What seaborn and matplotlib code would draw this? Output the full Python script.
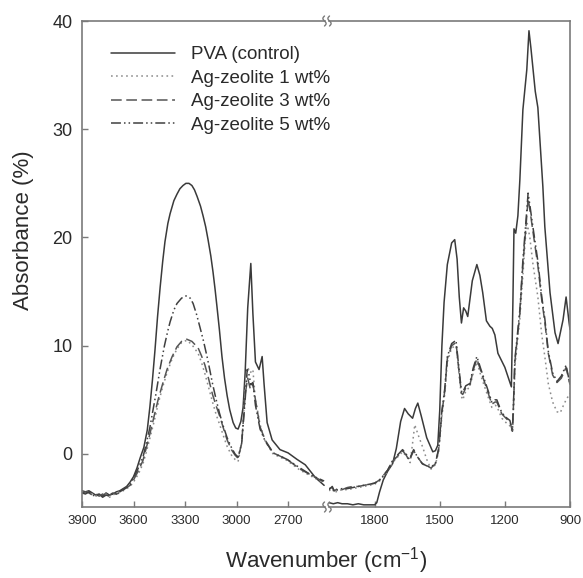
import numpy as np
import pandas as pd
import matplotlib
matplotlib.use("Agg")
import matplotlib.pyplot as plt
from matplotlib.lines import Line2D
import seaborn as sns

SAMPLES = ["PVA (control)", "Ag-zeolite 1 wt%", "Ag-zeolite 3 wt%", "Ag-zeolite 5 wt%"]

# ---- high wavenumber segment (3900-2485 cm-1) ----
PVA_HI_WN = [3900, 3880, 3860, 3840, 3820, 3800, 3780, 3760, 3740, 3720, 3700, 3680, 3660,
             3640, 3620, 3600, 3580, 3560, 3540, 3520, 3505, 3490, 3475, 3460, 3445, 3430,
             3417, 3400, 3387, 3365, 3347, 3330, 3312, 3295, 3277, 3260, 3245, 3230, 3210,
             3195, 3180, 3166, 3150, 3137, 3125, 3114, 3100, 3085, 3070, 3055, 3040, 3020,
             3005, 2991, 2975, 2962, 2950, 2935, 2917, 2905, 2890, 2869, 2851, 2840, 2822,
             2793, 2747, 2700, 2648, 2600, 2540, 2490]
PVA_HI_AB = [-3.4, -3.5, -3.4, -3.6, -3.8, -3.7, -3.9, -3.6, -3.8, -3.7, -3.5, -3.4, -3.2,
             -3.0, -2.6, -2.1, -1.3, -0.3, 0.6, 2.2, 4.3, 6.8, 9.6, 12.7, 15.4, 17.8,
             19.6, 21.3, 22.2, 23.4, 24.0, 24.5, 24.8, 25.0, 25.0, 24.8, 24.4, 23.8, 22.9,
             22.0, 21.0, 19.8, 18.3, 16.8, 15.2, 13.6, 11.5, 9.0, 7.0, 5.4, 4.1, 2.9,
             2.4, 2.3, 3.0, 4.3, 7.5, 13.5, 17.6, 13.0, 8.5, 7.8, 9.0, 6.5, 2.9,
             1.3, 0.4, 0.1, -0.5, -1.0, -2.2, -2.9]

AG1_HI_WN = [3900, 3880, 3860, 3840, 3820, 3800, 3780, 3760, 3740, 3720, 3700, 3680, 3660,
             3640, 3620, 3600, 3570, 3545, 3525, 3504, 3480, 3457, 3430, 3405, 3375, 3347,
             3320, 3290, 3260, 3224, 3205, 3184, 3162, 3140, 3118, 3096, 3075, 3055, 3030,
             3009, 2991, 2970, 2950, 2935, 2920, 2905, 2890, 2863, 2834, 2787, 2706, 2630,
             2560, 2490]
AG1_HI_AB = [-3.5, -3.6, -3.5, -3.7, -3.9, -3.8, -3.8, -3.7, -4.0, -3.8, -3.6, -3.5, -3.4,
             -3.2, -3.0, -2.6, -1.8, -0.9, 0.2, 1.5, 3.0, 4.6, 6.2, 7.5, 8.8, 9.7,
             10.3, 10.5, 10.1, 9.3, 8.5, 7.4, 6.1, 4.8, 3.6, 2.6, 1.6, 0.7, -0.1,
             -0.5, -0.7, 1.0, 6.0, 8.0, 7.5, 7.8, 5.0, 2.7, 1.2, 0.0, -0.6, -1.5,
             -2.1, -2.7]

AG3_HI_WN = [3900, 3880, 3860, 3840, 3820, 3800, 3780, 3760, 3740, 3720, 3700, 3680, 3660,
             3640, 3620, 3600, 3570, 3545, 3525, 3504, 3480, 3457, 3430, 3405, 3375, 3347,
             3320, 3290, 3260, 3224, 3205, 3184, 3162, 3140, 3118, 3096, 3075, 3055, 3030,
             3009, 2991, 2970, 2950, 2935, 2920, 2905, 2890, 2863, 2834, 2787, 2706, 2630,
             2560, 2490]
AG3_HI_AB = [-3.6, -3.5, -3.6, -3.8, -3.7, -3.9, -3.7, -3.9, -3.8, -3.6, -3.7, -3.6, -3.3,
             -3.1, -2.9, -2.4, -1.5, -0.6, 0.6, 1.9, 3.5, 5.0, 6.5, 7.8, 9.0, 9.9,
             10.4, 10.6, 10.4, 9.8, 9.1, 8.2, 6.9, 5.5, 4.4, 3.4, 2.3, 1.3, 0.4,
             -0.1, -0.4, 1.0, 5.5, 7.0, 6.0, 6.5, 5.0, 2.5, 1.3, 0.1, -0.5, -1.4,
             -2.0, -2.6]

AG5_HI_WN = [3900, 3880, 3860, 3840, 3820, 3800, 3780, 3760, 3740, 3720, 3700, 3680, 3660,
             3640, 3620, 3600, 3575, 3545, 3525, 3504, 3485, 3470, 3446, 3420, 3400, 3387,
             3365, 3347, 3320, 3294, 3270, 3253, 3233, 3213, 3192, 3172, 3155, 3140, 3120,
             3100, 3078, 3055, 3030, 3009, 2991, 2970, 2950, 2938, 2925, 2918, 2905, 2890,
             2863, 2834, 2787, 2706, 2630, 2560, 2490]
AG5_HI_AB = [-3.6, -3.7, -3.5, -3.8, -3.9, -3.7, -4.0, -3.8, -3.9, -3.6, -3.7, -3.5, -3.3,
             -3.1, -2.8, -2.2, -1.4, -0.3, 1.0, 2.5, 4.2, 5.5, 7.8, 10.0, 11.4, 12.2,
             13.3, 13.9, 14.4, 14.6, 14.4, 13.9, 12.9, 11.7, 10.4, 9.0, 7.7, 6.5, 5.1,
             3.8, 2.6, 1.5, 0.6, 0.0, -0.3, 1.0, 5.0, 7.8, 7.2, 6.4, 6.6, 4.5,
             2.3, 1.2, 0.1, -0.5, -1.3, -2.0, -2.5]

# ---- low wavenumber segment (2010-900 cm-1) ----
PVA_LO_WN = [2010, 1990, 1970, 1950, 1925, 1900, 1875, 1850, 1825, 1800, 1790, 1777, 1760,
             1740, 1717, 1700, 1680, 1662, 1645, 1625, 1612, 1601, 1585, 1560, 1532, 1520,
             1509, 1500, 1490, 1480, 1465, 1445, 1431, 1420, 1410, 1400, 1390, 1380, 1371,
             1350, 1329, 1315, 1302, 1285, 1269, 1258, 1246, 1232, 1200, 1180, 1170, 1163,
             1158, 1150, 1140, 1131, 1117, 1099, 1089, 1080, 1071, 1060, 1048, 1025, 1016,
             992, 969, 955, 932, 918, 904, 900]
PVA_LO_AB = [-4.5, -4.6, -4.5, -4.6, -4.6, -4.7, -4.6, -4.7, -4.7, -4.7, -4.5, -3.5, -2.4,
             -1.6, -0.9, 0.5, 3.0, 4.2, 3.7, 3.3, 4.2, 4.7, 3.5, 1.5, 0.2, 0.3,
             0.8, 4.0, 10.0, 14.0, 17.5, 19.5, 19.8, 18.0, 14.5, 12.1, 13.5, 13.2, 12.7,
             16.0, 17.5, 16.5, 14.9, 12.3, 11.8, 11.6, 11.0, 9.3, 8.0, 6.8, 6.2, 14.0,
             20.8, 20.4, 22.0, 25.3, 31.8, 35.5, 39.1, 37.5, 35.7, 33.5, 32.0, 24.7, 21.0,
             14.9, 11.2, 10.2, 12.4, 14.5, 12.1, 11.5]

AG1_LO_WN = [2010, 1995, 1985, 1970, 1950, 1925, 1900, 1875, 1850, 1825, 1800, 1777, 1760,
             1740, 1717, 1690, 1671, 1650, 1636, 1625, 1615, 1600, 1578, 1560, 1540, 1520,
             1505, 1490, 1477, 1465, 1445, 1425, 1412, 1400, 1394, 1380, 1362, 1345, 1329,
             1310, 1283, 1260, 1245, 1237, 1214, 1190, 1177, 1165, 1158, 1154, 1131, 1117,
             1105, 1097, 1085, 1071, 1048, 1030, 1016, 1000, 980, 960, 945, 930, 918, 900]
AG1_LO_AB = [-3.4, -3.2, -3.6, -3.4, -3.3, -3.3, -3.2, -3.1, -3.0, -2.9, -2.8, -2.5, -2.1,
             -1.6, -0.8, -0.2, 0.2, -0.3, -0.8, 1.0, 2.7, 1.8, 0.6, -0.5, -1.4, -1.0,
             0.2, 3.5, 5.5, 8.5, 9.8, 10.0, 7.5, 5.3, 5.0, 5.8, 6.2, 7.5, 8.5,
             7.2, 5.6, 4.3, 4.5, 4.4, 3.3, 2.8, 2.6, 2.0, 5.0, 8.0, 12.5, 16.5,
             20.0, 21.3, 20.0, 17.6, 14.5, 11.0, 9.0, 6.5, 4.8, 3.9, 3.8, 4.5, 5.0, 5.6]

AG3_LO_WN = [2010, 1995, 1985, 1970, 1950, 1925, 1900, 1875, 1850, 1825, 1800, 1777, 1760,
             1740, 1717, 1690, 1671, 1655, 1640, 1620, 1605, 1580, 1560, 1540, 1520, 1505,
             1490, 1477, 1465, 1445, 1425, 1412, 1400, 1394, 1380, 1362, 1345, 1329, 1310,
             1283, 1260, 1245, 1237, 1214, 1190, 1177, 1165, 1158, 1154, 1140, 1131, 1117,
             1099, 1093, 1085, 1071, 1048, 1030, 1016, 1000, 980, 960, 940, 918, 908, 900]
AG3_LO_AB = [-3.2, -3.1, -3.4, -3.2, -3.3, -3.1, -3.0, -3.0, -2.9, -2.8, -2.7, -2.4, -2.0,
             -1.5, -0.7, -0.1, 0.3, -0.1, -0.6, 0.3, -0.2, -0.9, -1.1, -1.3, -0.9, 0.4,
             3.8, 5.8, 8.8, 10.0, 10.3, 7.8, 5.6, 5.5, 6.1, 6.3, 7.8, 8.8, 7.6,
             6.0, 4.6, 4.8, 4.8, 3.7, 3.2, 3.0, 2.1, 5.8, 8.5, 11.2, 13.0, 17.5,
             22.0, 23.6, 22.6, 20.6, 17.4, 14.2, 12.2, 9.3, 7.3, 6.6, 7.0, 8.0, 7.1, 6.4]

AG5_LO_WN = [2010, 1995, 1985, 1970, 1950, 1925, 1900, 1875, 1850, 1825, 1800, 1777, 1760,
             1740, 1717, 1690, 1671, 1655, 1640, 1620, 1605, 1580, 1560, 1540, 1520, 1505,
             1490, 1477, 1465, 1445, 1425, 1412, 1400, 1394, 1380, 1362, 1345, 1329, 1310,
             1283, 1260, 1245, 1237, 1214, 1190, 1177, 1165, 1158, 1154, 1140, 1131, 1117,
             1099, 1093, 1085, 1071, 1048, 1030, 1016, 1000, 980, 960, 940, 918, 908, 900]
AG5_LO_AB = [-3.3, -3.0, -3.5, -3.3, -3.2, -3.2, -3.1, -3.0, -2.9, -2.8, -2.7, -2.4, -2.0,
             -1.5, -0.6, 0.0, 0.4, 0.0, -0.5, 0.4, -0.2, -0.9, -1.1, -1.2, -0.9, 0.5,
             4.0, 6.0, 9.0, 10.2, 10.5, 8.0, 5.8, 5.7, 6.3, 6.5, 8.0, 9.0, 7.8,
             6.2, 4.8, 5.0, 5.0, 3.8, 3.3, 3.1, 2.2, 6.0, 8.7, 11.5, 13.3, 17.9,
             22.5, 24.1, 23.0, 21.0, 17.8, 14.5, 12.5, 9.5, 7.5, 6.7, 7.2, 8.2, 7.2, 6.5]

HI_TICKS = [3900, 3600, 3300, 3000, 2700]
LO_TICKS = [1800, 1500, 1200, 900]
Y_TICKS = [0, 10, 20, 30, 40]


def frame(pairs):
    rows = []
    for name, wn, ab in pairs:
        rows.append(pd.DataFrame({"wn": wn, "ab": ab, "sample": name}))
    return pd.concat(rows, ignore_index=True)


df_hi = frame(zip(SAMPLES, [PVA_HI_WN, AG1_HI_WN, AG3_HI_WN, AG5_HI_WN],
                  [PVA_HI_AB, AG1_HI_AB, AG3_HI_AB, AG5_HI_AB]))
df_lo = frame(zip(SAMPLES, [PVA_LO_WN, AG1_LO_WN, AG3_LO_WN, AG5_LO_WN],
                  [PVA_LO_AB, AG1_LO_AB, AG3_LO_AB, AG5_LO_AB]))

sns.set_style("ticks", {"xtick.direction": "in", "ytick.direction": "in"})
plt.rcParams["font.family"] = ["Liberation Sans", "DejaVu Sans"]
plt.rcParams["mathtext.fontset"] = "custom"
plt.rcParams["mathtext.rm"] = "Liberation Sans"
plt.rcParams["mathtext.it"] = "Liberation Sans"

spine_c = "#7a7a7a"
text_c = "#2a2a2a"
palette = {SAMPLES[0]: "#3a3a3a", SAMPLES[1]: "#8c8c8c",
           SAMPLES[2]: "#555555", SAMPLES[3]: "#404040"}
dashes = {SAMPLES[0]: "", SAMPLES[1]: (1.1, 2.2),
          SAMPLES[2]: (7, 3), SAMPLES[3]: (6.5, 2, 1, 2, 1, 2)}

W, H = 583, 578
fig = plt.figure(figsize=(W / 100, H / 100), dpi=100)
ax1 = fig.add_axes([82 / W, 1 - 507 / H, (325 - 82) / W, 486 / H])
ax2 = fig.add_axes([329 / W, 1 - 507 / H, (570 - 329) / W, 486 / H], sharey=ax1)
ax2.patch.set_visible(False)  # keep the legend text readable where it runs past ax1

for ax, d in ((ax1, df_hi), (ax2, df_lo)):
    sns.lineplot(data=d, x="wn", y="ab", hue="sample", style="sample",
                 hue_order=SAMPLES, style_order=SAMPLES, palette=palette,
                 dashes=dashes, estimator=None, sort=False, lw=1.1,
                 legend=(ax is ax1), ax=ax)
    ax.set_xlabel("")
    ax.set_ylabel("")
    for s in ax.spines.values():
        s.set_color(spine_c)
        s.set_linewidth(1.2)
    ax.tick_params(colors=spine_c, labelcolor=text_c, length=4, width=1)

ax1.set_xlim(3900, 2485)
ax2.set_xlim(2010, 900)
ax1.set_ylim(-4.9, 40)
ax1.set_xticks(HI_TICKS)
ax2.set_xticks(LO_TICKS)
ax1.set_yticks(Y_TICKS)
ax1.spines["right"].set_visible(False)
ax2.spines["left"].set_visible(False)
ax2.tick_params(axis="y", left=False, labelleft=False)
ax1.tick_params(axis="x", labelsize=9.5, pad=6)
ax2.tick_params(axis="x", labelsize=9.5, pad=6)
ax1.tick_params(axis="y", labelsize=13, pad=7)

handles, labels = ax1.get_legend_handles_labels()
keep = [(h, l) for h, l in zip(handles, labels) if l in SAMPLES]
leg = ax1.legend([h for h, _ in keep], [l for _, l in keep], loc="upper left",
                 bbox_to_anchor=(0.12, 0.948), frameon=False, fontsize=13.5,
                 handlelength=3.4, handletextpad=0.85, labelspacing=0.34,
                 borderpad=0, borderaxespad=0)
for t in leg.get_texts():
    t.set_color(text_c)

fig.text(326 / W, 1 - 561 / H, "Wavenumber (cm$^{-1}$)", ha="center", va="center",
         fontsize=16, color=text_c)
fig.text(24 / W, 1 - 230 / H, "Absorbance (%)", ha="center", va="center",
         rotation=90, fontsize=16, color=text_c)

# axis break marks
t = np.linspace(-1, 1, 25)
for cx in (324.5, 329.5):
    for cy in (21, 507):
        fig.add_artist(Line2D((cx + 1.6 * np.sin(np.pi * t)) / W, 1 - (cy + 5 * t) / H,
                              color=spine_c, lw=1))

fig.savefig("out.png", dpi=100)
